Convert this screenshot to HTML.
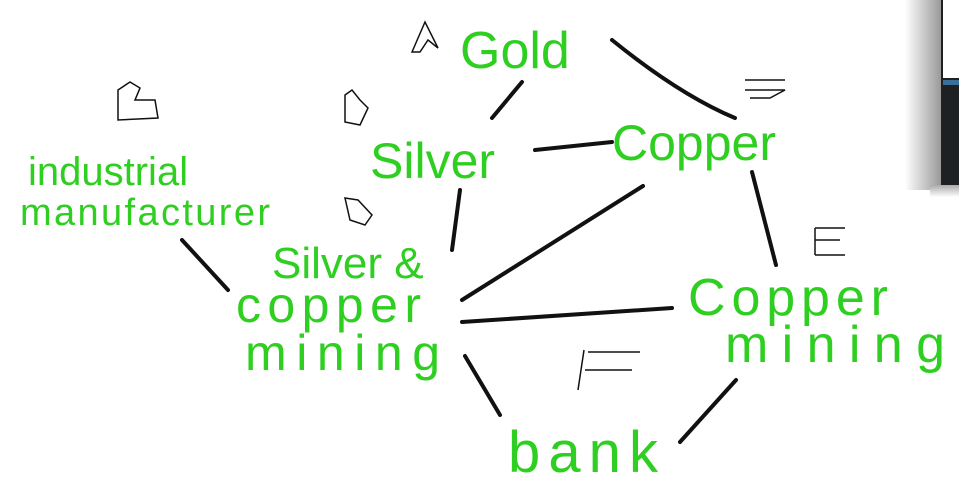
<!DOCTYPE html>
<html><head><meta charset="utf-8"><style>
html,body{margin:0;padding:0;background:#fff;width:959px;height:497px;overflow:hidden}
svg{display:block}
text{font-family:"Liberation Sans",sans-serif;fill:#2fcf22;font-weight:normal}
</style></head><body>
<svg width="959" height="497" viewBox="0 0 959 497">
<defs>
  <linearGradient id="shx" x1="0" x2="1" y1="0" y2="0">
    <stop offset="0" stop-color="#fff"/><stop offset="1" stop-color="#999"/>
  </linearGradient>
  <linearGradient id="shy" x1="0" x2="0" y1="0" y2="1">
    <stop offset="0" stop-color="#aaa"/><stop offset="1" stop-color="#fff"/>
  </linearGradient>
</defs>
<g>
  <rect x="905" y="0" width="36" height="190" fill="url(#shx)"/>
  <rect x="930" y="185" width="29" height="12" fill="url(#shy)"/>
  <rect x="941" y="0" width="18" height="185" fill="#1e2124"/>
  <rect x="943" y="0" width="16" height="78" fill="#fff"/>
  <rect x="943" y="80" width="16" height="5" fill="#3a6f9a"/>
</g>
<g stroke="#111" stroke-width="4" stroke-linecap="round" fill="none">
  <path d="M522 82 L492 118"/>
  <path d="M612 40 Q680 95 735 118"/>
  <path d="M535 150 L612 142"/>
  <path d="M460 190 L452 250"/>
  <path d="M643 186 L462 300"/>
  <path d="M752 172 L776 265"/>
  <path d="M462 322 L672 308"/>
  <path d="M465 356 L500 415"/>
  <path d="M736 380 L680 442"/>
  <path d="M182 240 L228 290"/>
</g>
<g stroke="#111" stroke-width="1.5" fill="none">
  <path d="M412 52 L425 22 L438 48 L428 40 L420 52 Z"/>
  <path d="M118 90 L130 82 L140 88 L135 100 L155 100 L158 118 L118 120 Z"/>
  <path d="M345 95 L352 90 L360 100 L368 108 L360 125 L345 122 Z"/>
  <path d="M345 198 L358 200 L372 215 L365 225 L350 220 Z"/>
  <path d="M745 80 L785 80 M745 90 L785 90 L770 98 L750 98"/>
  <path d="M815 228 L845 228 M815 240 L840 240 M815 255 L845 255 M815 228 L815 255"/>
  <path d="M588 352 L640 352 M585 370 L632 370 M578 390 L584 350"/>
</g>
<text x="460" y="68" font-size="52">Gold</text>
<text x="370" y="178" font-size="50">Silver</text>
<text x="612" y="160" font-size="50">Copper</text>
<text x="28" y="185" font-size="40">industrial</text>
<text x="20" y="225" font-size="38" textLength="250">manufacturer</text>
<text x="272" y="278" font-size="44">Silver &amp;</text>
<text x="236" y="322" font-size="50" textLength="185">copper</text>
<text x="245" y="370" font-size="50" textLength="195">mining</text>
<text x="688" y="315" font-size="52" textLength="200">Copper</text>
<text x="725" y="362" font-size="52" textLength="220">mining</text>
<text x="508" y="472" font-size="58" textLength="150">bank</text>
</svg>
</body></html>
